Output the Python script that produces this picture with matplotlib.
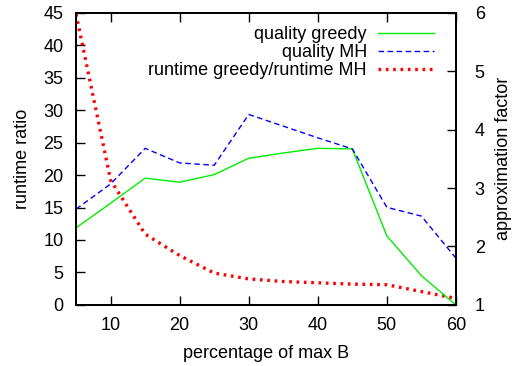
import matplotlib
matplotlib.use("Agg")
import matplotlib.pyplot as plt

plt.rcParams["font.family"] = ["Liberation Sans", "DejaVu Sans"]

# percentage of max B
pct = [5, 10, 15, 20, 25, 30, 35, 40, 45, 50, 55, 60]
# approximation factor (right axis)
quality_greedy = [2.32, 2.74, 3.17, 3.10, 3.23, 3.51, 3.60, 3.68, 3.67, 2.18, 1.50, 1.00]
quality_mh = [2.64, 3.07, 3.68, 3.43, 3.39, 4.26, 4.06, 3.86, 3.67, 2.67, 2.52, 1.80]
# runtime greedy / runtime MH (left axis)
runtime_ratio = [44.8, 19.2, 10.9, 7.6, 4.9, 4.0, 3.6, 3.4, 3.2, 3.1, 2.05, 1.0]

fs = 13

fig = plt.figure(figsize=(5.14, 3.66), dpi=100)
ax = fig.add_axes([0.148, 0.167, 0.739, 0.798])
ax2 = ax.twinx()

l1, = ax2.plot(pct, quality_greedy, color="#00ee00", lw=1.0, label="quality greedy")
l2, = ax2.plot(pct, quality_mh, color="#0000ff", lw=1.0, dashes=(4, 2.5), label="quality MH")
l3, = ax.plot(pct, runtime_ratio, color="#ff0000", lw=2.4, dashes=(0.8, 1.4),
              dash_capstyle="butt", label="runtime greedy/runtime MH")

ax.set_xlim(5, 60)
ax.set_ylim(0, 45)
ax2.set_ylim(1, 6)
ax.set_xticks([10, 20, 30, 40, 50, 60])
ax.set_yticks(range(0, 46, 5))
ax2.set_yticks(range(1, 7))

ax.tick_params(axis="x", direction="in", length=6.5, width=1.0, top=True, labelsize=fs, pad=9)
ax.tick_params(axis="y", direction="in", length=6.5, width=1.0, right=False, labelsize=fs, pad=9)
ax2.tick_params(axis="y", direction="in", length=6.5, width=1.0, labelsize=fs, pad=13.5)

for a in (ax, ax2):
    for s in a.spines.values():
        s.set_linewidth(1.3)

ax.set_xlabel("percentage of max B", fontsize=fs, labelpad=8)
ax.set_ylabel("runtime ratio", fontsize=fs, labelpad=9)
ax2.set_ylabel("approximation factor", fontsize=fs, labelpad=7)

ax2.legend(handles=[l1, l2, l3], loc="upper right", bbox_to_anchor=(0.975, 0.997),
           frameon=False, markerfirst=False, fontsize=fs, handlelength=3.1,
           handletextpad=0.6, labelspacing=0.05, borderpad=0.2)

fig.savefig("out.png", dpi=100)
